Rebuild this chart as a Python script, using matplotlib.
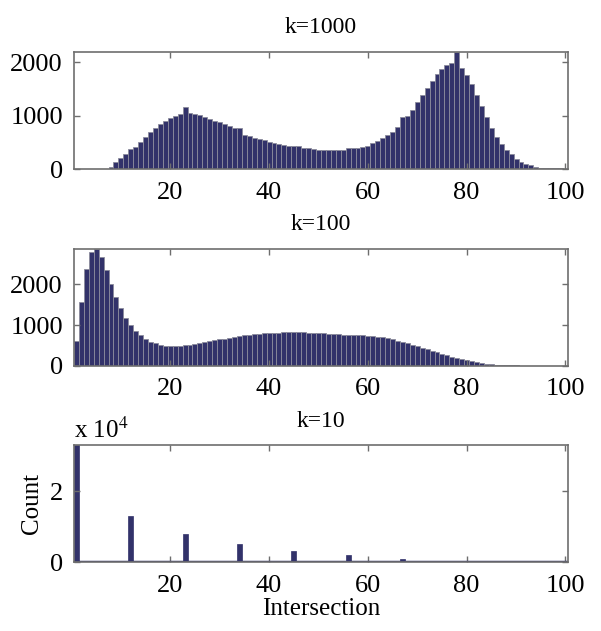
import matplotlib
matplotlib.use("Agg")
import matplotlib.pyplot as plt
from matplotlib.ticker import FuncFormatter
import numpy as np

plt.rcParams["font.family"] = ["Liberation Serif", "DejaVu Serif"]
plt.rcParams["mathtext.fontset"] = "stix"

bins = np.arange(1, 101)

# k=1000 histogram, bins 1..100
k1000 = [0, 0, 0, 0, 0, 0, 0, 45, 125, 210, 275, 370, 420, 505, 600, 690,
         770, 835, 900, 955, 1000, 1020, 1155, 1055, 1030, 1005, 975, 940, 905, 875,
         840, 810, 770, 760, 645, 610, 590, 565, 540, 515, 495, 470, 455, 440, 425,
         430, 400, 385, 375, 365, 355, 350, 350, 350, 350, 395, 390, 400, 420, 440,
         480, 530, 580, 640, 700, 790, 965, 990, 1100, 1250, 1380, 1510, 1650, 1770, 1870,
         1940, 1975, 2180, 1880, 1760, 1590, 1380, 1170, 965, 770, 595, 460, 360, 275, 190,
         135, 95, 68, 45, 30, 22, 18, 15, 12, 10]

# k=100 histogram, bins 1..100
k100 = [618, 1569, 2366, 2789, 2850, 2650, 2341, 2000, 1675, 1406, 1163, 1000, 862, 748, 658,
        593, 553, 520, 496, 488, 488, 488, 504, 520, 536, 561, 585, 610, 634, 650,
        667, 691, 715, 731, 748, 764, 775, 785, 795, 805, 810, 815, 820, 822, 822,
        822, 820, 815, 810, 805, 798, 790, 782, 775, 768, 768, 762, 755, 748, 740,
        728, 714, 698, 676, 650, 622, 590, 555, 518, 480, 445, 410, 372, 335, 298,
        262, 228, 195, 165, 138, 112, 90, 72, 56, 43, 33, 25, 19, 15, 12,
        10, 9, 8, 7, 7, 7, 7, 7, 7, 7]

# k=10 histogram: only every 11th bin is filled
k10_bins = [1, 12, 23, 34, 45, 56, 67, 78, 89, 100]
k10 = [33000, 13000, 8000, 5200, 3300, 2100, 950, 450, 150, 50]

face = "#32326a"
edge = "#8c8c9c"
spine = "#6e6e6e"

fig = plt.figure(figsize=(6.01, 6.31), dpi=100)
left, width, height = 0.123, 0.822, 0.185
bottoms = [0.732, 0.420, 0.109]


def style(ax, ylim, yticks):
    ax.set_xlim(0.5, 100.5)
    ax.set_ylim(0, ylim)
    ax.set_xticks([20, 40, 60, 80, 100])
    ax.set_yticks(yticks)
    ax.tick_params(direction="in", length=4, width=1, color=spine,
                   top=True, right=True, labelsize=19)
    ax.tick_params(axis="x", pad=9)
    ax.tick_params(axis="y", pad=8)
    for s in ax.spines.values():
        s.set_color(spine)
        s.set_linewidth(1.2)


ax1 = fig.add_axes([left, bottoms[0], width, height])
ax1.bar(bins, k1000, width=1, color=face, edgecolor=edge, linewidth=0.6)
style(ax1, 2180, [0, 1000, 2000])
ax1.set_title("k=1000", fontsize=17, pad=14)

ax2 = fig.add_axes([left, bottoms[1], width, height])
ax2.bar(bins, k100, width=1, color=face, edgecolor=edge, linewidth=0.6)
style(ax2, 2850, [0, 1000, 2000])
ax2.set_title("k=100", fontsize=17, pad=14)

ax3 = fig.add_axes([left, bottoms[2], width, height])
ax3.bar(k10_bins, k10, width=1, color=face, edgecolor=face, linewidth=0.5)
ax3.axhline(0, color=face, linewidth=2.5)
style(ax3, 33000, [0, 20000])
ax3.yaxis.set_major_formatter(FuncFormatter(lambda v, p: "%d" % round(v / 1e4)))
ax3.set_title("k=10", fontsize=17, pad=13)
ax3.text(0.0, 1.02, "x 10$^{4}$", transform=ax3.transAxes, fontsize=18,
         ha="left", va="bottom")
ax3.set_xlabel("Intersection", fontsize=18, labelpad=1)
ax3.set_ylabel("Count", fontsize=18, labelpad=5)

plt.savefig("out.png", dpi=100)
